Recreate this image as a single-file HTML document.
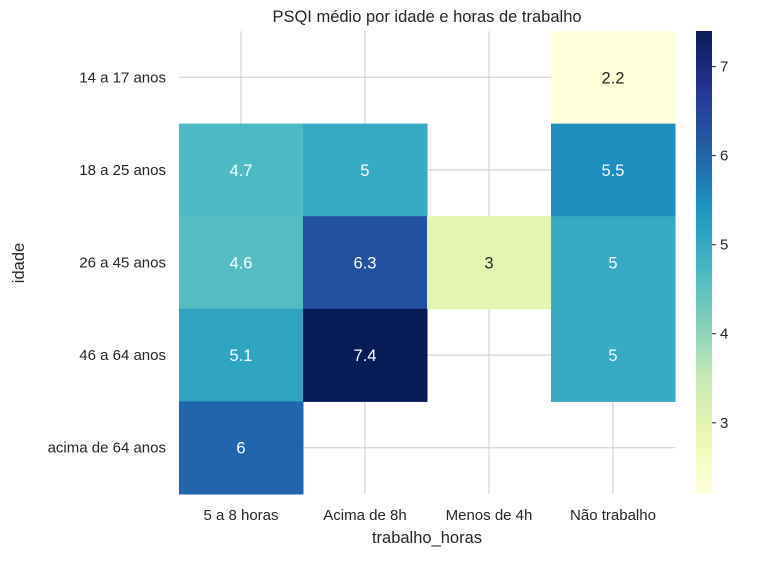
<!DOCTYPE html>
<html><head><meta charset="utf-8"><style>
body{margin:0;background:#fff;font-family:"Liberation Sans","DejaVu Sans",sans-serif}
</style></head><body>
<svg id="c" width="761" height="556" xmlns="http://www.w3.org/2000/svg"></svg>
<script>
const categoriesX=["5 a 8 horas","Acima de 8h","Menos de 4h","Não trabalho"];
const categoriesY=["14 a 17 anos","18 a 25 anos","26 a 45 anos","46 a 64 anos","acima de 64 anos"];
const row0=[null,null,null,2.2];
const row1=[4.7,5,null,5.5];
const row2=[4.6,6.3,3,5];
const row3=[5.1,7.4,null,5];
const row4=[6,null,null,null];
const values=[row0,row1,row2,row3,row4];
const cbTicks=[3,4,5,6,7];
const vmin=2.2, vmax=7.4;

const svg=document.getElementById('c');
const NS="http://www.w3.org/2000/svg";
function mk(t,a,txt){const e=document.createElementNS(NS,t);for(const k in a)e.setAttribute(k,a[k]);if(txt!==undefined)e.textContent=txt;svg.appendChild(e);return e;}
const L=179,R=675,T=31,B=494;
const cw=(R-L)/categoriesX.length, rh=(B-T)/categoriesY.length;
const xs=i=>L+i*cw, ys=j=>T+j*rh;
const stops=["#ffffd9","#edf8b1","#c7e9b4","#7fcdbb","#41b6c4","#1d91c0","#225ea8","#253494","#081d58"];
function hex(h){return [1,3,5].map(i=>parseInt(h.substr(i,2),16));}
function cmap(v){let t=(v-vmin)/(vmax-vmin);t=Math.max(0,Math.min(1,t));const p=t*8,i=Math.min(7,Math.floor(p)),f=p-i;const a=hex(stops[i]),b=hex(stops[i+1]);const c=a.map((x,k)=>Math.round(x+(b[k]-x)*f));return {s:`rgb(${c})`,l:0.299*c[0]+0.587*c[1]+0.114*c[2]};}
categoriesX.forEach((c,i)=>{const g=mk('line',{x1:xs(i)+cw/2,x2:xs(i)+cw/2,y1:T,y2:B,stroke:'#cccccc','stroke-width':1});

});
categoriesY.forEach((c,j)=>{const g=mk('line',{x1:L,x2:R,y1:ys(j)+rh/2,y2:ys(j)+rh/2,stroke:'#cccccc','stroke-width':1});

});
values.forEach((row,j)=>row.forEach((v,i)=>{if(v===null)return;const c=cmap(v);
const r=mk('rect',{x:xs(i),y:ys(j),width:cw+0.5,height:rh+0.5,fill:c.s});


const t=mk('text',{x:xs(i)+cw/2,y:ys(j)+rh/2+6,'text-anchor':'middle','font-size':16.5,fill:c.l<200?'#fff':'#262626'},String(v));

}));
categoriesX.forEach((c,i)=>{const t=mk('text',{x:xs(i)+cw/2,y:520,'text-anchor':'middle','font-size':15,fill:'#262626'},c);

});
categoriesY.forEach((c,j)=>{const t=mk('text',{x:166,y:ys(j)+rh/2+5,'text-anchor':'end','font-size':15,fill:'#262626'},c);

});
let e=mk('text',{x:427,y:543,'text-anchor':'middle','font-size':16.5,fill:'#262626'},'trabalho_horas');

e=mk('text',{x:24,y:263,'text-anchor':'middle','font-size':16.5,fill:'#262626',transform:'rotate(-90 24 263)'},'idade');

e=mk('text',{x:427,y:22,'text-anchor':'middle','font-size':16.5,fill:'#262626'},'PSQI médio por idade e horas de trabalho');

const CX=696,CW=16;
const cy=v=>B-(v-vmin)/(vmax-vmin)*(B-T);
const defs=mk('defs',{});const lg=document.createElementNS(NS,'linearGradient');
lg.setAttribute('id','g');lg.setAttribute('x1','0');lg.setAttribute('x2','0');lg.setAttribute('y1','1');lg.setAttribute('y2','0');
stops.forEach((s,i)=>{const st=document.createElementNS(NS,'stop');st.setAttribute('offset',i/8);st.setAttribute('stop-color',s);lg.appendChild(st);});
defs.appendChild(lg);
e=mk('rect',{x:CX,y:T,width:CW,height:B-T,fill:'url(#g)'});

cbTicks.forEach(v=>{mk('line',{x1:CX+CW,x2:CX+CW+4,y1:cy(v),y2:cy(v),stroke:'#262626'});
const t=mk('text',{x:CX+CW+8,y:cy(v)+5,'font-size':15,fill:'#262626'},String(v));

});
</script>
</body></html>
